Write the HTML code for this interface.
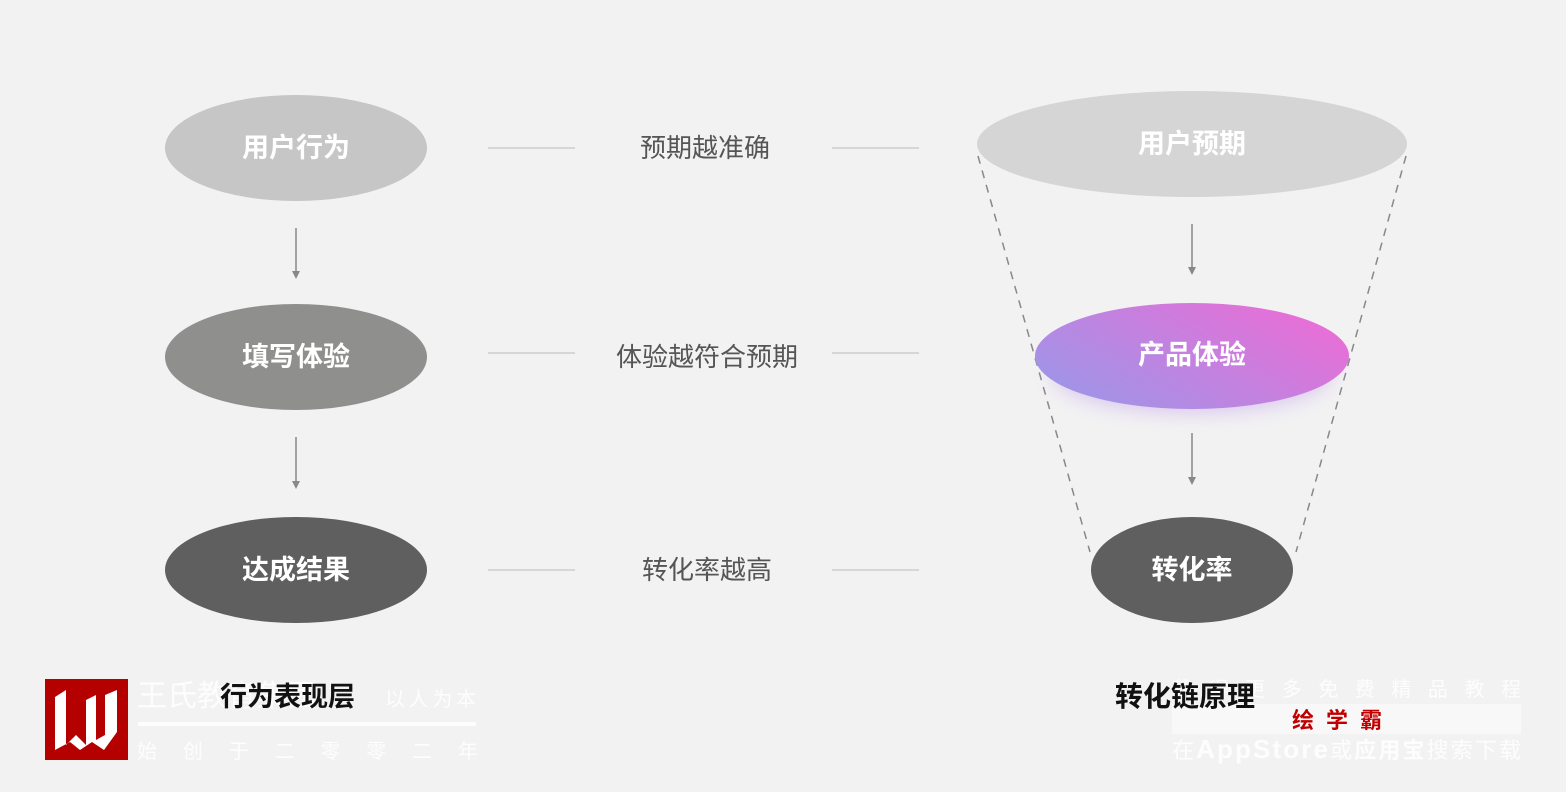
<!DOCTYPE html>
<html><head><meta charset="utf-8"><style>
body{margin:0;background:#f2f2f2;}
svg{display:block;font-family:"Liberation Sans","Noto Sans CJK SC",sans-serif;}
</style></head><body>
<svg width="1566" height="792" viewBox="0 0 1566 792">
<defs>
<linearGradient id="g" x1="0" y1="0.8" x2="1" y2="0.2"><stop offset="0" stop-color="#9c96e8"/><stop offset="1" stop-color="#ec6cd6"/></linearGradient>
<filter id="sh" x="-30%" y="-30%" width="160%" height="190%"><feGaussianBlur stdDeviation="10"/></filter>
</defs>
<rect width="1566" height="792" fill="#f2f2f2"/>
<g stroke="#888" stroke-width="1.5" stroke-dasharray="8,7" fill="none">
<line x1="978" y1="156" x2="1090" y2="552"/><line x1="1406" y1="156" x2="1296" y2="552"/></g>
<ellipse cx="296" cy="148" rx="131" ry="53" fill="#c6c6c6"/>
<ellipse cx="296" cy="357" rx="131" ry="53" fill="#8f8f8e"/>
<ellipse cx="296" cy="570" rx="131" ry="53" fill="#5e5f5e"/>
<ellipse cx="1192" cy="144" rx="215" ry="53" fill="#d5d5d5"/>
<ellipse cx="1192" cy="372" rx="140" ry="40" fill="#c7a6ee" opacity="0.6" filter="url(#sh)"/>
<ellipse cx="1192" cy="356" rx="157" ry="53" fill="url(#g)"/>
<ellipse cx="1192" cy="570" rx="101" ry="53" fill="#5e5f5e"/>
<g fill="#fff" font-size="27" font-weight="bold" text-anchor="middle">
<text x="296" y="157">用户行为</text><text x="296" y="366">填写体验</text><text x="296" y="579">达成结果</text>
<text x="1192" y="153">用户预期</text><text x="1192" y="364">产品体验</text><text x="1192" y="579">转化率</text></g>
<g stroke="#888" stroke-width="1.5">
<line x1="296" y1="228" x2="296" y2="272"/><line x1="296" y1="437" x2="296" y2="482"/>
<line x1="1192" y1="224" x2="1192" y2="268"/><line x1="1192" y1="433" x2="1192" y2="478"/></g>
<g fill="#888"><path d="M292,271 L300,271 L296,279Z"/><path d="M292,481 L300,481 L296,489Z"/>
<path d="M1188,267 L1196,267 L1192,275Z"/><path d="M1188,477 L1196,477 L1192,485Z"/></g>
<g stroke="#ccc" stroke-width="1.5">
<line x1="488" y1="148" x2="575" y2="148"/><line x1="832" y1="148" x2="919" y2="148"/>
<line x1="488" y1="353" x2="575" y2="353"/><line x1="832" y1="353" x2="919" y2="353"/>
<line x1="488" y1="570" x2="575" y2="570"/><line x1="832" y1="570" x2="919" y2="570"/></g>
<g fill="#555" font-size="26" text-anchor="middle">
<text x="705" y="157">预期越准确</text><text x="707" y="366">体验越符合预期</text><text x="707" y="579">转化率越高</text></g>
<rect x="45" y="679" width="83" height="81" fill="#b50000"/>
<path d="M55,697 L66,690 L66,745 L76,735 L86,745 L86,700 L96,695 L96,740 L105,735 L105,695 L117,690 L117,732 L104,750 L92,742 L80,750 L70,742 L55,750Z" fill="#fff"/>
<g fill="#fff" opacity="0.9">
<text x="137" y="706" font-size="30">王氏教育集团</text>
<text x="385" y="706" font-size="20" textLength="91">以人为本</text>
<rect x="138" y="722" width="338" height="4"/>
<text x="137" y="758" font-size="20" textLength="341">始创于二零零二年</text></g>
<text x="220" y="706" font-size="27" font-weight="bold" fill="#111">行为表现层</text>
<g fill="#fff" opacity="0.9">
<text x="1172" y="696" font-size="20" textLength="349">获得更多免费精品教程</text>
<text x="1172" y="758" font-size="22" textLength="349">在<tspan font-weight="bold" font-size="26">AppStore</tspan>或<tspan font-weight="bold">应用宝</tspan>搜索下载</text></g>
<rect x="1172" y="704" width="349" height="30" fill="#f8f8f8"/>
<text x="1343" y="728" font-size="22" font-weight="bold" fill="#c00000" text-anchor="middle" letter-spacing="12">绘学霸</text>
<text x="1115" y="706" font-size="28" font-weight="bold" fill="#111">转化链原理</text>
</svg>
</body></html>
